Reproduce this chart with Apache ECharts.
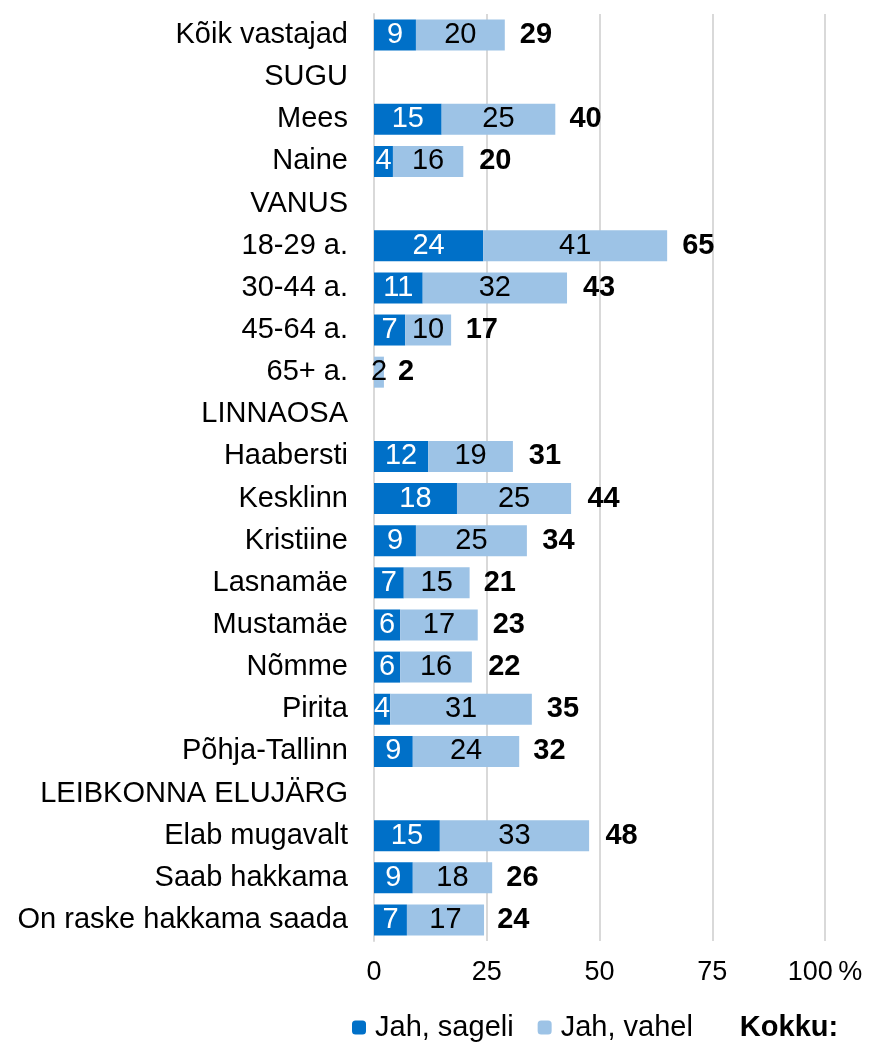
<!DOCTYPE html>
<html><head><meta charset="utf-8">
<script src="https://cdn.jsdelivr.net/npm/echarts@6/dist/echarts.min.js"></script>
<style>html,body{margin:0;padding:0;background:#fff}#c{width:876px;height:1042px}</style>
</head><body><div id="c"></div>
<script>
const categories = ["Kõik vastajad","SUGU","Mees","Naine","VANUS","18-29 a.","30-44 a.","45-64 a.","65+ a.","LINNAOSA","Haabersti","Kesklinn","Kristiine","Lasnamäe","Mustamäe","Nõmme","Pirita","Põhja-Tallinn","LEIBKONNA ELUJÄRG","Elab mugavalt","Saab hakkama","On raske hakkama saada"];
const sageli = [9.3,null,15.0,4.2,null,24.2,10.8,6.9,0,null,12.0,18.4,9.3,6.6,5.8,5.8,3.6,8.6,null,14.6,8.6,7.3];
const vahel  = [19.7,null,25.2,15.6,null,40.8,32.0,10.2,2.2,null,18.8,25.3,24.6,14.6,17.2,15.9,31.4,23.6,null,33.1,17.6,17.1];
const kokku  = [29,null,40,20,null,65,43,17,2,null,31,44,34,21,23,22,35,32,null,48,26,24];
const xTicks = [0,25,50,75,100];

const FONT = 'Liberation Sans, Arial, sans-serif';
const FS = 29;
const chart = echarts.init(document.getElementById('c'), null, {renderer:'canvas'});
chart.setOption({
  animation:false,
  textStyle:{fontFamily:FONT},
  grid:{left:374,right:51,top:14,bottom:101,containLabel:false},
  legend:{
    top:1011,left:347,itemWidth:14,itemHeight:14,itemGap:24,padding:[2,5,2,5],
    textStyle:{fontFamily:FONT,fontSize:FS,color:'#000',padding:[0,0,0,4]},
    data:[{name:'Jah, sageli'},{name:'Jah, vahel'},{name:'Kokku:',icon:'rect',itemStyle:{color:'rgba(0,0,0,0)'},textStyle:{fontWeight:'bold'}}]
  },
  xAxis:{type:'value',min:0,max:100,interval:25,
    axisLine:{show:false},axisTick:{show:false},
    splitLine:{show:true,lineStyle:{color:'#d9d9d9',width:2}},
    axisLabel:{fontFamily:FONT,fontSize:27,color:'#000',margin:18,
      formatter:v=>v===100?'100\u2009%':String(v)}
  },
  yAxis:{type:'category',data:categories,inverse:true,
    axisLine:{show:true,lineStyle:{color:'#d9d9d9',width:2}},axisTick:{show:false},
    axisLabel:{fontFamily:FONT,fontSize:FS,color:'#000',margin:26}
  },
  series:[
    {name:'Jah, sageli',type:'bar',stack:'a',data:sageli,barWidth:31,
      itemStyle:{color:'#0070c8'},
      label:{show:true,position:'inside',color:'#fff',fontSize:FS,fontFamily:FONT,
        formatter:p=>(p.value==null||Math.round(p.value)===0)?'':String(Math.round(p.value))}},
    {name:'Jah, vahel',type:'bar',stack:'a',data:vahel,barWidth:31,
      itemStyle:{color:'#9dc3e6'},
      label:{show:true,position:'inside',color:'#000',fontSize:FS,fontFamily:FONT,
        formatter:p=>(p.value==null)?'':String(Math.round(p.value))}},
    {name:'Kokku:',type:'bar',data:kokku,barWidth:31,barGap:'-100%',z:1,
      itemStyle:{color:'rgba(0,0,0,0)'},
      label:{show:true,position:'right',distance:15,color:'#000',fontWeight:'bold',fontSize:FS,fontFamily:FONT,
        formatter:p=>(p.value==null)?'':String(p.value)}}
  ]
});
</script></body></html>
